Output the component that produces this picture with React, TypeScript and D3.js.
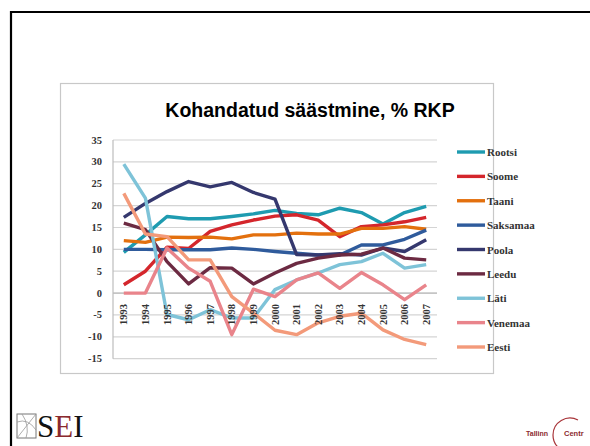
import React from "react";
import * as d3 from "d3";

// years on the category axis
const years = ["1993","1994","1995","1996","1997","1998","1999","2000","2001","2002","2003","2004","2005","2006","2007"];
const yTicks = [35, 30, 25, 20, 15, 10, 5, 0, -5, -10, -15];

// values (% of GDP)
const rootsi = [9.3, 13.3, 17.5, 17.0, 17.0, 17.5, 18.1, 18.9, 18.2, 17.9, 19.4, 18.4, 15.8, 18.4, 19.8];
const soome = [1.9, 5.0, 10.5, 10.2, 14.1, 15.6, 16.7, 17.6, 17.9, 16.7, 12.9, 15.2, 15.6, 16.3, 17.3];
const taani = [12.0, 11.6, 12.8, 12.7, 12.8, 12.4, 13.3, 13.3, 13.7, 13.5, 13.5, 14.8, 14.8, 15.2, 14.6];
const saksamaa = [10.0, 10.0, 9.9, 9.9, 9.9, 10.3, 10.0, 9.5, 9.1, 8.7, 8.7, 11.0, 11.0, 12.3, 14.4];
const poola = [17.3, 20.5, 23.2, 25.5, 24.3, 25.3, 23.0, 21.5, 8.8, 8.7, 9.0, 8.7, 10.3, 9.5, 12.2];
const leedu = [16.0, 14.5, 7.2, 2.1, 5.8, 5.7, 2.1, 4.6, 6.8, 8.0, 8.7, 8.9, 10.3, 8.0, 7.6];
const lati = [29.5, 21.7, -4.9, -6.1, -3.8, -5.7, -5.7, 0.8, 3.0, 4.6, 6.5, 7.2, 9.1, 5.7, 6.5];
const venemaa = [0, 0, 10.3, 5.7, 2.7, -9.5, 0.9, -0.8, 3.0, 4.6, 1.1, 4.7, 1.9, -1.5, 1.9];
const eesti = [22.8, 13.5, 12.9, 7.6, 7.6, -0.8, -4.6, -8.5, -9.5, -6.8, -5.3, -4.6, -8.4, -10.6, -11.8];

const seriesNames = ["Rootsi", "Soome", "Taani", "Saksamaa", "Poola", "Leedu", "Läti", "Venemaa", "Eesti"];
const seriesValues = [rootsi, soome, taani, saksamaa, poola, leedu, lati, venemaa, eesti];
const seriesColors = ["#1e9bb0", "#d4262c", "#e3700e", "#2f5b9c", "#35386e", "#6c2a42", "#7ec3d8", "#e9848b", "#f39a7a"];

const App = () => {
  const width = 590;
  const height = 446;

  // plot area
  const x = d3.scaleBand().domain(years).range([113, 437]);
  const y = d3.scaleLinear().domain([-15, 35]).range([358.7, 140]);

  const line = d3
    .line<number>()
    .x((d, i) => (x(years[i]) as number) + x.bandwidth() / 2)
    .y((d) => y(d));

  const legendY = d3.scalePoint().domain(seriesNames).range([152, 347]);

  return (
    <svg width={width} height={height} style={{ position: "absolute", left: 0, top: 0, background: "#fff" }}>
      {/* slide frame */}
      <path d="M11,446 L11,12 L590,12" fill="none" stroke="#000" strokeWidth={2.2} />

      {/* chart box */}
      <rect x={60.5} y={83.5} width={433} height={290} fill="#fff" stroke="#c8c8c8" strokeWidth={1.2} />

      <text
        x={310}
        y={117}
        textAnchor="middle"
        fontFamily="Liberation Sans, Arial, sans-serif"
        fontWeight="bold"
        fontSize={19.5}
        fill="#000"
      >
        Kohandatud säästmine, % RKP
      </text>

      {/* gridlines */}
      {yTicks.map((t) => (
        <line key={t} x1={113} x2={437} y1={y(t)} y2={y(t)} stroke="#d4d4d4" strokeWidth={1.2} />
      ))}
      <line x1={113} x2={113} y1={140} y2={y(-15)} stroke="#bdbdbd" strokeWidth={1.2} />
      <line x1={113} x2={437} y1={y(0)} y2={y(0)} stroke="#bdbdbd" strokeWidth={1.2} />

      {/* y tick labels */}
      {yTicks.map((t) => (
        <text
          key={"l" + t}
          x={102}
          y={y(t) + 3.5}
          textAnchor="end"
          fontFamily="Liberation Serif, serif"
          fontWeight="bold"
          fontSize={10.5}
          fill="#333"
        >
          {t}
        </text>
      ))}

      {/* series */}
      {seriesValues.map((vals, i) => (
        <path
          key={seriesNames[i]}
          d={line(vals) as string}
          fill="none"
          stroke={seriesColors[i]}
          strokeWidth={3.4}
          strokeLinejoin="round"
        />
      ))}

      {/* year labels, rotated, just below the zero line */}
      {years.map((yr) => {
        const cx = (x(yr) as number) + x.bandwidth() / 2;
        return (
          <text
            key={yr}
            transform={`translate(${cx + 3.5},${y(0) + 11}) rotate(-90)`}
            textAnchor="end"
            fontFamily="Liberation Serif, serif"
            fontWeight="bold"
            fontSize={10.5}
            fill="#333"
          >
            {yr}
          </text>
        );
      })}

      {/* legend */}
      {seriesNames.map((name, i) => {
        const ly = legendY(name) as number;
        return (
          <g key={"lg" + name}>
            <line x1={457} x2={485} y1={ly} y2={ly} stroke={seriesColors[i]} strokeWidth={3.4} />
            <text
              x={487}
              y={ly + 4}
              fontFamily="Liberation Serif, serif"
              fontWeight="bold"
              fontSize={11}
              fill="#333"
            >
              {name}
            </text>
          </g>
        );
      })}

      {/* SEI logo */}
      <g>
        <rect x={17} y={414} width={19} height={24} fill="#fff" stroke="#777" strokeWidth={1} />
        <path d="M17,438 L36,414 M17,422 Q28,418 36,430 M22,414 Q30,426 26,438" fill="none" stroke="#999" strokeWidth={0.8} />
        <text x={37} y={437} fontFamily="Liberation Serif, serif" fontSize={31} fill="#111">
          S
          <tspan fill="#8b2a2e">E</tspan>
          <tspan fill="#111">I</tspan>
        </text>
      </g>

      {/* Tallinn Centre logo (cut off at the edge) */}
      <g>
        <text x={526} y={436} fontFamily="Liberation Sans, Arial, sans-serif" fontWeight="bold" fontSize={7} fill="#8b2a2e">
          Tallinn
        </text>
        <path d="M578,420 A17,17 0 1,0 578,450" fill="none" stroke="#a8353a" strokeWidth={1.2} />
        <text x={564} y={436} fontFamily="Liberation Sans, Arial, sans-serif" fontWeight="bold" fontSize={7.5} fill="#8b2a2e">
          Centr
        </text>
      </g>
    </svg>
  );
};

export default App;
